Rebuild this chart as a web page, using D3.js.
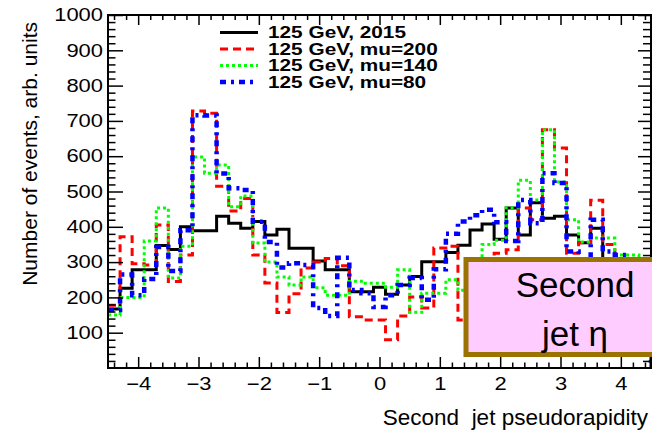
<!DOCTYPE html>
<html>
<head>
<meta charset="utf-8">
<script src="https://cdn.jsdelivr.net/npm/d3@7/dist/d3.min.js"></script>
<style>
  html, body { margin: 0; padding: 0; background: #fff; }
  svg { display: block; font-family: "Liberation Sans", Arial, Helvetica, sans-serif; }
</style>
</head>
<body>
<svg id="chart"></svg>
<script>
// bin centres of the eta histograms (bin width 0.2)
const etaBins = [-4.4, -4.2, -4.0, -3.8, -3.6, -3.4, -3.2, -3.0, -2.8, -2.6, -2.4, -2.2, -2.0, -1.8, -1.6,
                 -1.4, -1.2, -1.0, -0.8, -0.6, -0.4, -0.2, 0.0, 0.2, 0.4, 0.6, 0.8, 1.0, 1.2, 1.4,
                 1.6, 1.8, 2.0, 2.2, 2.4, 2.6, 2.8, 3.0, 3.2, 3.4, 3.6, 3.8, 4.0, 4.2, 4.4];
const binWidth = 0.2;

const h2015 = [167, 226, 278, 278, 347, 336, 400, 389, 389, 430, 410, 396, 415, 377, 393,
               339, 339, 303, 278, 278, 216, 216, 229, 209, 235, 259, 301, 301, 327, 348,
               391, 408, 365, 453, 377, 468, 424, 430, 377, 355, 396, 310, 300, 260, 220];
const hMu200 = [178, 372, 295, 292, 405, 245, 320, 728, 722, 515, 445, 480, 320, 241, 157,
                210, 283, 300, 310, 290, 145, 136, 136, 80, 147, 201, 170, 340, 345, 136,
                250, 250, 325, 335, 453, 420, 675, 623, 325, 355, 475, 350, 310, 280, 250];
const hMu140 = [150, 200, 200, 360, 453, 255, 345, 598, 552, 575, 457, 487, 354, 300, 258,
                235, 258, 227, 206, 206, 246, 240, 240, 229, 278, 158, 212, 212, 250, 220,
                250, 350, 362, 454, 532, 476, 675, 527, 420, 357, 368, 368, 320, 320, 250];
const hMu80 = [164, 265, 206, 252, 343, 275, 390, 716, 715, 551, 509, 504, 414, 357, 285,
               297, 292, 170, 147, 312, 221, 212, 173, 206, 235, 255, 193, 280, 380, 415,
               433, 448, 413, 360, 476, 410, 552, 524, 330, 300, 420, 330, 320, 300, 250];

const legendLabels = ["125 GeV, 2015", "125 GeV, mu=200", "125 GeV, mu=140", "125 GeV, mu=80"];
const xTicks = [-4, -3, -2, -1, 0, 1, 2, 3, 4];
const yTicks = [100, 200, 300, 400, 500, 600, 700, 800, 900, 1000];
const xTitle = "Second  jet pseudorapidity";
const yTitle = "Number of events, arb. units";
const boxLines = ["Second", "jet \u03b7"];

const width = 652, height = 432;
const frameLeft = 108, frameRight = 651, frameTop = 15, frameBottom = 368;
const labelStretch = 1.22;

const svg = d3.select("#chart").attr("width", width).attr("height", height);

const x = d3.scaleLinear().domain([-4.5, 4.5]).range([frameLeft, frameRight]);
const y = d3.scaleLinear().domain([0, 1000]).range([frameBottom, frameTop]);

const series = [
    { values: h2015, color: "#000000", width: 3, dash: null },
    { values: hMu200, color: "#ff0000", width: 3, dash: "8 5" },
    { values: hMu140, color: "#00ff00", width: 3, dash: "3 3" },
    { values: hMu80, color: "#0000ff", width: 4.5, dash: "6 5 3 5" }
];

// step outline, dropping to zero after the last bin
const line = d3.line().x(d => x(d[0])).y(d => y(d[1])).curve(d3.curveStepAfter);
function outline(vals) {
    const last = etaBins.length - 1;
    const pts = vals.map((v, i) => [etaBins[i] - binWidth / 2, v]);
    pts.push([etaBins[last] + binWidth / 2, vals[last]]);
    pts.push([etaBins[last] + binWidth / 2, 0]);
    return line(pts);
}

const plot = svg.append("g");
series.forEach(s => {
    plot.append("path")
        .attr("d", outline(s.values))
        .attr("fill", "none")
        .attr("stroke", s.color)
        .attr("stroke-width", s.width)
        .attr("stroke-dasharray", s.dash)
        .attr("stroke-linejoin", "miter");
});

// axes, ROOT style ticks pointing inside on all four sides
const xMinor = d3.range(-44, 45, 2).map(d => d / 10).filter(d => Math.abs(d - Math.round(d)) > 1e-6);
const yMinor = d3.range(20, 1000, 20).filter(d => d % 100 !== 0);

svg.append("g").attr("transform", `translate(0,${frameBottom})`)
    .call(d3.axisBottom(x).tickValues(xMinor).tickSize(-5.5).tickFormat(""))
    .call(g => g.select(".domain").remove());
const xAxis = svg.append("g").attr("transform", `translate(0,${frameBottom})`)
    .call(d3.axisBottom(x).tickValues(xTicks).tickSize(-11).tickPadding(9)
        .tickFormat(d => d < 0 ? "\u2212" + Math.abs(d) : String(d)))
    .call(g => g.select(".domain").remove());
xAxis.selectAll("text")
    .attr("font-size", 18).attr("fill", "#000")
    .attr("font-family", "Liberation Sans, Arial, sans-serif")
    .attr("transform", `scale(${labelStretch},1)`);

svg.append("g").attr("transform", `translate(0,${frameTop})`)
    .call(d3.axisTop(x).tickValues(xMinor).tickSize(-5).tickFormat(""))
    .call(g => g.select(".domain").remove());
svg.append("g").attr("transform", `translate(0,${frameTop})`)
    .call(d3.axisTop(x).tickValues(xTicks).tickSize(-10).tickFormat(""))
    .call(g => g.select(".domain").remove());

svg.append("g").attr("transform", `translate(${frameLeft},0)`)
    .call(d3.axisLeft(y).tickValues(yMinor).tickSize(-7.5).tickFormat(""))
    .call(g => g.select(".domain").remove());
const yAxis = svg.append("g").attr("transform", `translate(${frameLeft},0)`)
    .call(d3.axisLeft(y).tickValues(yTicks).tickSize(-15).tickPadding(5).tickFormat(d3.format("d")))
    .call(g => g.select(".domain").remove());
yAxis.selectAll("text")
    .attr("font-size", 18).attr("fill", "#000")
    .attr("font-family", "Liberation Sans, Arial, sans-serif")
    .attr("x", -5 / labelStretch)
    .attr("transform", `scale(${labelStretch},1)`);

svg.append("g").attr("transform", `translate(${frameRight - 1},0)`)
    .call(d3.axisRight(y).tickValues(yMinor).tickSize(-7).tickFormat(""))
    .call(g => g.select(".domain").remove());
svg.append("g").attr("transform", `translate(${frameRight - 1},0)`)
    .call(d3.axisRight(y).tickValues(yTicks).tickSize(-12).tickFormat(""))
    .call(g => g.select(".domain").remove());

svg.selectAll(".tick line").attr("stroke", "#000").attr("stroke-width", 1.5);

// frame
svg.append("rect")
    .attr("x", frameLeft).attr("y", frameTop)
    .attr("width", frameRight - frameLeft).attr("height", frameBottom - frameTop)
    .attr("fill", "none").attr("stroke", "#000").attr("stroke-width", 2);

// titles
svg.append("text")
    .attr("x", 648).attr("y", 425)
    .attr("text-anchor", "end")
    .attr("font-size", 22.5)
    .style("white-space", "pre")
    .text(xTitle);
svg.append("text")
    .attr("transform", "translate(37,22) rotate(-90)")
    .attr("text-anchor", "end")
    .attr("font-size", 21)
    .text(yTitle);

// legend
const legend = svg.append("g");
series.forEach((s, i) => {
    const ly = 32.5 + i * 16.5;
    legend.append("line")
        .attr("x1", 220).attr("x2", 258).attr("y1", ly).attr("y2", ly)
        .attr("stroke", s.color).attr("stroke-width", s.width)
        .attr("stroke-dasharray", s.dash);
    legend.append("text")
        .attr("transform", `translate(268,${ly + 5.5}) scale(1.3,1)`)
        .attr("font-size", 16).attr("font-weight", "bold")
        .text(legendLabels[i]);
});

// pink label box
svg.append("rect")
    .attr("x", 466).attr("y", 259.5)
    .attr("width", 200).attr("height", 95)
    .attr("fill", "#ffccff").attr("stroke", "#9a7300").attr("stroke-width", 5);
boxLines.forEach((t, i) => {
    svg.append("text")
        .attr("x", 575).attr("y", 297 + i * 49)
        .attr("text-anchor", "middle")
        .attr("font-size", 35)
        .text(t);
});
</script>
</body>
</html>
